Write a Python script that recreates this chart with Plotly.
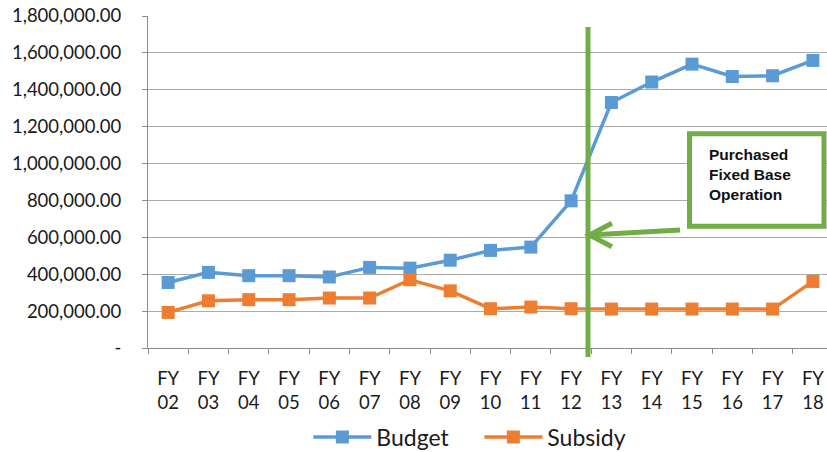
import plotly.graph_objects as go

categories = ["FY 02", "FY 03", "FY 04", "FY 05", "FY 06", "FY 07", "FY 08", "FY 09",
              "FY 10", "FY 11", "FY 12", "FY 13", "FY 14", "FY 15", "FY 16", "FY 17", "FY 18"]
budget = [355000, 410000, 392000, 392000, 385000, 437000, 433000, 476000,
          529000, 547000, 798000, 1331000, 1442000, 1539000, 1472000, 1476000, 1559000]
subsidy = [193000, 256000, 262000, 262000, 271000, 271000, 370000, 310000,
           213000, 222000, 213000, 211000, 211000, 211000, 211000, 211000, 361000]
y_tickvals = [0, 200000, 400000, 600000, 800000, 1000000, 1200000, 1400000, 1600000, 1800000]
y_ticktext = ["-", "200,000.00", "400,000.00", "600,000.00", "800,000.00", "1,000,000.00",
              "1,200,000.00", "1,400,000.00", "1,600,000.00", "1,800,000.00"]
x_ticktext = [c.replace(" ", "<br>") for c in categories]
note_text = "Purchased<br>Fixed Base<br>Operation"

BLUE = "#5B9BD5"
ORANGE = "#ED7D31"
GREEN = "#70AD47"
FONT = "Lato"

fig = go.Figure()
fig.add_trace(go.Scatter(x=categories, y=budget, name="Budget", mode="lines+markers",
                         line=dict(color=BLUE, width=3.5),
                         marker=dict(symbol="square", size=13, color=BLUE)))
fig.add_trace(go.Scatter(x=categories, y=subsidy, name="Subsidy", mode="lines+markers",
                         line=dict(color=ORANGE, width=3.5),
                         marker=dict(symbol="square", size=13, color=ORANGE)))

fig.update_layout(
    width=827, height=452,
    margin=dict(l=148, r=0, t=16, b=104, autoexpand=False),
    paper_bgcolor="white", plot_bgcolor="white",
    font=dict(family=FONT, size=18.5, color="#1a1a1a"),
    showlegend=True,
    legend=dict(orientation="h", x=0.488, xanchor="center", y=-0.268, yanchor="middle",
                font=dict(family=FONT, size=23, color="#1a1a1a"),
                itemwidth=58, entrywidth=98, bgcolor="rgba(0,0,0,0)"),
    xaxis=dict(type="category", range=[-0.5, 16.35],
               tickmode="array", tickvals=categories, ticktext=x_ticktext,
               tickson="boundaries", ticks="outside", ticklen=5, tickcolor="#8c8c8c",
               showline=True, linecolor="#8c8c8c", linewidth=1,
               showgrid=False, zeroline=False, ticklabelstandoff=14,
               ticklabeloverflow="allow",
               tickfont=dict(family=FONT, size=18.5, color="#1a1a1a")),
    yaxis=dict(range=[0, 1800000], tickmode="array", tickvals=y_tickvals, ticktext=y_ticktext,
               ticks="outside", ticklen=5, tickcolor="#8c8c8c",
               showline=True, linecolor="#8c8c8c", linewidth=1,
               showgrid=True, gridcolor="#ababab", gridwidth=1, zeroline=False,
               ticklabelstandoff=17, ticklabeloverflow="allow",
               tickfont=dict(family=FONT, size=18.5, color="#1a1a1a")),
)

# vertical marker line
fig.add_shape(type="line", xref="paper", yref="paper", x0=0.648, x1=0.648, y0=-0.027, y1=0.967,
              line=dict(color=GREEN, width=5), layer="above")
# annotation box
fig.add_shape(type="rect", xref="paper", yref="paper", x0=0.7975, x1=0.9956, y0=0.3666, y1=0.6455,
              line=dict(color=GREEN, width=5), fillcolor="white", layer="above")
# arrow
fig.add_shape(type="path", xref="paper", yref="paper",
              path="M 0.7835 0.3554 L 0.6502 0.3404 M 0.6832 0.3756 L 0.6502 0.3404 L 0.6832 0.3051",
              line=dict(color=GREEN, width=5), layer="above")
fig.add_annotation(xref="paper", yref="paper", x=0.8233, y=0.524, xanchor="left", yanchor="middle",
                   align="left", showarrow=False,
                   text="<b>" + note_text + "</b>",
                   font=dict(family="Liberation Sans", size=15.5, color="#111111"))

fig.write_html("out.html", config={"displayModeBar": False},
               post_script="document.body.style.margin='0';document.body.style.overflow='hidden';")
